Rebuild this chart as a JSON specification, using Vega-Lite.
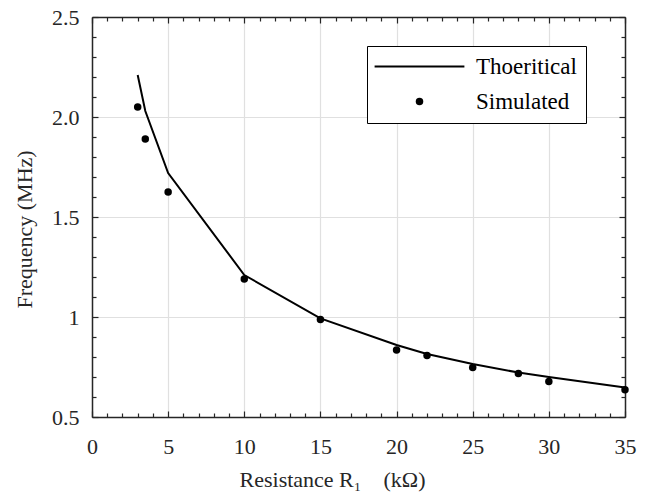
{
  "$schema": "https://vega.github.io/schema/vega-lite/v6.json",
  "width": 533,
  "height": 400,
  "autosize": "none",
  "padding": {"left": 92, "top": 17, "right": 25, "bottom": 77},
  "config": {
    "font": "Liberation Serif",
    "view": {"stroke": null},
    "axis": {
      "domainColor": "#262626",
      "domainWidth": 1.5,
      "tickColor": "#262626",
      "tickWidth": 1.2,
      "labelColor": "#262626",
      "titleColor": "#262626",
      "labelFont": "Liberation Serif",
      "titleFont": "Liberation Serif",
      "labelFontSize": 22,
      "titleFontSize": 22,
      "titleFontWeight": "normal",
      "gridColor": "#e0e0e0",
      "gridWidth": 1.2
    }
  },
  "data": {
    "values": [
      {"r": 3, "f": 2.21, "series": "Thoeritical"},
      {"r": 3.5, "f": 2.03, "series": "Thoeritical"},
      {"r": 5, "f": 1.72, "series": "Thoeritical"},
      {"r": 10, "f": 1.21, "series": "Thoeritical"},
      {"r": 15, "f": 0.993, "series": "Thoeritical"},
      {"r": 20, "f": 0.86, "series": "Thoeritical"},
      {"r": 22, "f": 0.815, "series": "Thoeritical"},
      {"r": 25, "f": 0.765, "series": "Thoeritical"},
      {"r": 28, "f": 0.722, "series": "Thoeritical"},
      {"r": 30, "f": 0.70, "series": "Thoeritical"},
      {"r": 35, "f": 0.648, "series": "Thoeritical"},
      {"r": 3, "f": 2.05, "series": "Simulated"},
      {"r": 3.5, "f": 1.89, "series": "Simulated"},
      {"r": 5, "f": 1.625, "series": "Simulated"},
      {"r": 10, "f": 1.19, "series": "Simulated"},
      {"r": 15, "f": 0.988, "series": "Simulated"},
      {"r": 20, "f": 0.835, "series": "Simulated"},
      {"r": 22, "f": 0.807, "series": "Simulated"},
      {"r": 25, "f": 0.748, "series": "Simulated"},
      {"r": 28, "f": 0.718, "series": "Simulated"},
      {"r": 30, "f": 0.677, "series": "Simulated"},
      {"r": 35, "f": 0.636, "series": "Simulated"}
    ]
  },
  "layer": [
    {
      "transform": [{"filter": "datum.series === 'Thoeritical'"}],
      "mark": {"type": "line", "color": "black", "strokeWidth": 2},
      "encoding": {
        "x": {
          "field": "r", "type": "quantitative",
          "scale": {"domain": [0, 35], "nice": false, "zero": false},
          "axis": {
            "orient": "bottom",
            "title": "Resistance R₁\u2003(kΩ)",
            "titlePadding": 10,
            "titleX": 240,
            "titleAlign": "center",
            "values": [0,1,2,3,4,5,6,7,8,9,10,11,12,13,14,15,16,17,18,19,20,21,22,23,24,25,26,27,28,29,30,31,32,33,34,35],
            "labelExpr": "datum.value % 5 === 0 ? '' + datum.value : ''",
            "tickSize": {"condition": {"test": "datum.value % 5 === 0", "value": -6}, "value": -4},
            "labelPadding": 25,
            "labelFlush": false,
            "labelOverlap": false,
            "gridOpacity": {"condition": {"test": "datum.value % 5 === 0", "value": 1}, "value": 0}
          }
        },
        "y": {
          "field": "f", "type": "quantitative",
          "scale": {"domain": [0.5, 2.5], "nice": false, "zero": false},
          "axis": {
            "orient": "left",
            "title": "Frequency (MHz)",
            "titlePadding": 15,
            "titleY": 212,
            "titleAlign": "center",
            "values": [0.5,0.6,0.7,0.8,0.9,1,1.1,1.2,1.3,1.4,1.5,1.6,1.7,1.8,1.9,2,2.1,2.2,2.3,2.4,2.5],
            "labelExpr": "abs(datum.value*2 - round(datum.value*2)) < 0.001 ? (datum.value === 1 ? '1' : format(datum.value, '.1f')) : ''",
            "tickSize": {"condition": {"test": "abs(datum.value*2 - round(datum.value*2)) < 0.001", "value": -6}, "value": -4},
            "labelPadding": 19,
            "labelFlush": false,
            "labelOverlap": false,
            "gridOpacity": {"condition": {"test": "abs(datum.value*2 - round(datum.value*2)) < 0.001", "value": 1}, "value": 0}
          }
        }
      }
    },
    {
      "transform": [{"filter": "datum.series === 'Simulated'"}],
      "mark": {"type": "point", "filled": true, "color": "black", "opacity": 1, "size": 56},
      "encoding": {
        "x": {
          "field": "r", "type": "quantitative",
          "scale": {"domain": [0, 35], "nice": false, "zero": false},
          "axis": {
            "orient": "top", "title": null, "labels": false, "grid": false,
            "values": [0,1,2,3,4,5,6,7,8,9,10,11,12,13,14,15,16,17,18,19,20,21,22,23,24,25,26,27,28,29,30,31,32,33,34,35],
            "tickSize": {"condition": {"test": "datum.value % 5 === 0", "value": -6}, "value": -4}
          }
        },
        "y": {
          "field": "f", "type": "quantitative",
          "scale": {"domain": [0.5, 2.5], "nice": false, "zero": false},
          "axis": {
            "orient": "right", "title": null, "labels": false, "grid": false,
            "values": [0.5,0.6,0.7,0.8,0.9,1,1.1,1.2,1.3,1.4,1.5,1.6,1.7,1.8,1.9,2,2.1,2.2,2.3,2.4,2.5],
            "tickSize": {"condition": {"test": "abs(datum.value*2 - round(datum.value*2)) < 0.001", "value": -6}, "value": -4}
          }
        },
        "shape": {
          "field": "series", "type": "nominal",
          "scale": {"domain": ["Thoeritical", "Simulated"], "range": ["M-12,-0.27H12V0.27H-12Z", "circle"]},
          "legend": {
            "title": null,
            "orient": "none",
            "legendX": 275,
            "legendY": 29,
            "padding": 9,
            "strokeColor": "black",
            "fillColor": "white",
            "symbolSize": 56,
            "symbolOffset": 32,
            "labelOffset": 45,
            "labelFontSize": 23,
            "labelFont": "Liberation Serif",
            "labelColor": "black",
            "labelExpr": "datum.label + '  '",
            "rowPadding": 11,
            "symbolFillColor": "black",
            "symbolStrokeColor": "black",
            "symbolStrokeWidth": 0,
            "labelLimit": 300,
            "encode": {
              "symbols": {"update": {"fill": {"value": "black"}, "opacity": {"value": 1}}}
            }
          }
        }
      }
    }
  ],
  "resolve": {"axis": {"x": "independent", "y": "independent"}}
}
